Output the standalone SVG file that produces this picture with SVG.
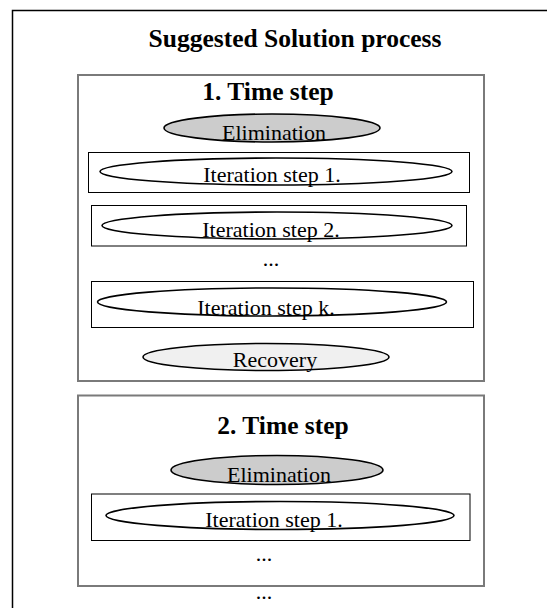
<svg xmlns="http://www.w3.org/2000/svg" width="547" height="608" viewBox="0 0 547 608">
<style>
.bg{fill:#ffffff}
.frame{fill:none;stroke:#000;stroke-width:1.5}
.step{fill:#fff;stroke:#7a7a7a;stroke-width:2}
.iter{fill:#fff;stroke:#000;stroke-width:1}
.ell{stroke:#000;stroke-width:1.6}
.elim{fill:#cccccc}
.rec{fill:#f0f0f0}
.plain{fill:#fff}
.h{font-family:"Liberation Serif","Times New Roman",serif;font-weight:bold;fill:#000;text-anchor:middle}
.t{font-family:"Liberation Serif","Times New Roman",serif;font-size:22px;fill:#000;text-anchor:middle}
</style>
<rect class="bg" x="0" y="0" width="547" height="608"/>
<g id="outer">
<path class="frame" d="M12.5,608 V10.5 H547"/>
<text class="h" x="295" y="47" font-size="25.5">Suggested Solution process</text>
</g>
<g id="timestep1">
<rect class="step" x="78" y="75" width="406" height="306"/>
<text class="h" x="268" y="99.5" font-size="25.5">1. Time step</text>
</g>
<g id="elim1">
<ellipse class="ell elim" cx="272" cy="128" rx="108" ry="14"/>
<text class="t" x="274" y="140">Elimination</text>
</g>
<g id="iter1">
<rect class="iter" x="88.5" y="152.5" width="381" height="40"/>
<ellipse class="ell plain" cx="276" cy="171.5" rx="176" ry="13.5"/>
<text class="t" x="272" y="182">Iteration step 1.</text>
</g>
<g id="iter2">
<rect class="iter" x="91.5" y="205.5" width="375" height="40.5"/>
<ellipse class="ell plain" cx="277" cy="225.5" rx="175" ry="13.5"/>
<text class="t" x="271" y="237">Iteration step 2.</text>
</g>
<text class="t" x="271" y="266">...</text>
<g id="iterk">
<rect class="iter" x="91.5" y="281.5" width="382" height="46"/>
<ellipse class="ell plain" cx="272" cy="302" rx="174.5" ry="14"/>
<text class="t" x="266" y="315">Iteration step k.</text>
</g>
<g id="recovery1">
<ellipse class="ell rec" cx="266" cy="357" rx="123" ry="13.5"/>
<text class="t" x="275" y="367">Recovery</text>
</g>
<g id="timestep2">
<rect class="step" x="78" y="395.5" width="406" height="190.5"/>
<text class="h" x="283" y="433.5" font-size="25.5">2. Time step</text>
</g>
<g id="elim2">
<ellipse class="ell elim" cx="277" cy="470" rx="106" ry="14.5"/>
<text class="t" x="279" y="482">Elimination</text>
</g>
<g id="iter2_1">
<rect class="iter" x="91.5" y="494" width="378.5" height="46.5"/>
<ellipse class="ell plain" cx="280" cy="515.5" rx="174" ry="14"/>
<text class="t" x="274" y="527">Iteration step 1.</text>
</g>
<text class="t" x="264" y="561">...</text>
<text class="t" x="264" y="599">...</text>
<g id="connectors"></g>
</svg>
